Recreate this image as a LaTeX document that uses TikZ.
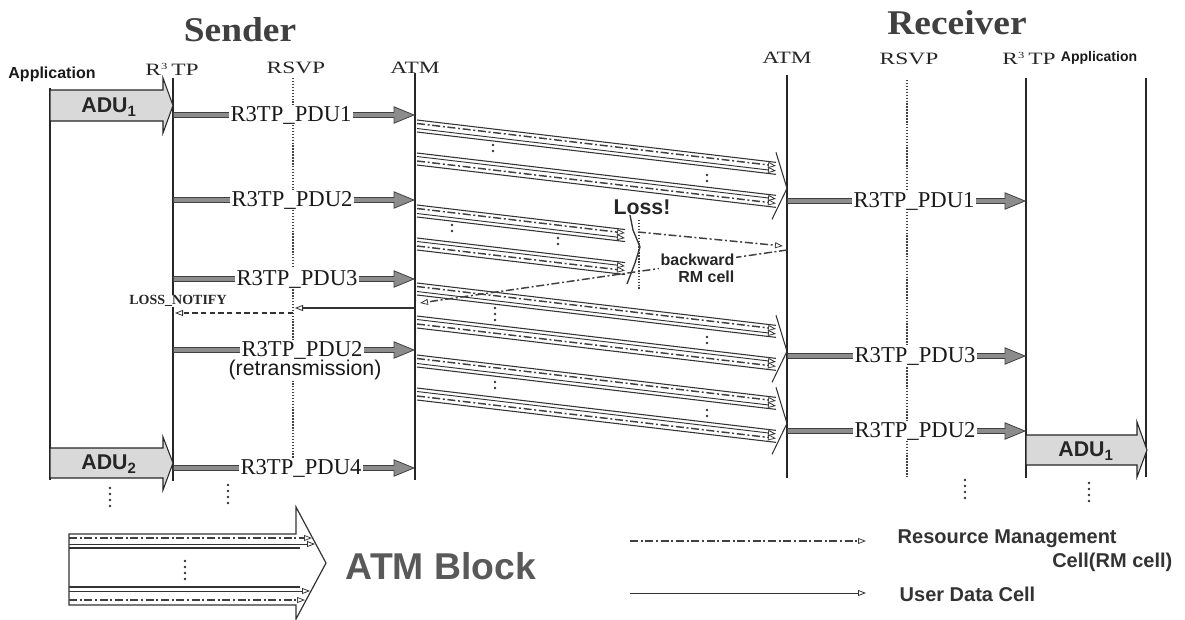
\documentclass[tikz,border=0pt]{standalone}
\usepackage{graphicx}
\usepackage{fontspec}
\setmainfont{Liberation Serif}
\setsansfont{Liberation Sans}
\usetikzlibrary{arrows.meta,calc}
\newcommand\hdrtxt[1]{\scalebox{1.35}[1]{#1}}
\newcommand\rthree{R\raisebox{0.75ex}{\fontsize{7}{8}\selectfont 3}\,TP}
\newcommand\atmln[4]{\draw[#4] (417,{#1+#3}) -- (#2,{#1+#3+\bdy});}
\newcommand\atmblk[3]{%
 \pgfmathsetmacro\bdy{0.118*(#2-417)}%
 \atmln{#1}{#2}{0}{outl}%
 \atmln{#1}{#2}{3.5}{rml,rmtip}%
 \atmln{#1}{#2}{8.5}{udl,udtip}%
 \atmln{#1}{#2}{12}{outl}%
 \atmln{#1}{#2}{33}{outl}%
 \atmln{#1}{#2}{36.5}{udl,udtip}%
 \atmln{#1}{#2}{41}{rml,rmtip}%
 \atmln{#1}{#2}{45}{outl}%
 \ifnum#3=1 \draw[outl] (#2,{#1+\bdy-10}) -- ({#2+11},{#1+\bdy+26}) -- ({#2-4},{#1+\bdy+57});\fi
}
\begin{document}
\begin{tikzpicture}[x=0.75pt,y=-0.75pt,
  life/.style={line width=1.1pt, black!85},
  rsvpl/.style={line width=1.2pt, black!75, dash pattern=on 1.1pt off 1.1pt},
  pdu/.style={line width=4.8pt, black!75, -{Triangle[length=16pt,width=13pt,fill=black!45,line width=0.6pt]},
    postaction={draw=black!45, line width=2.8pt, -, shorten >=15pt, shorten <=0.8pt}},
  pdulbl/.style={font=\fontsize{17}{20}\selectfont, fill=white, inner sep=1pt, text=black!90},
  hdr/.style={font=\fontsize{13}{15}\selectfont, text=black!85},
  hdrs/.style={font=\sffamily\bfseries\fontsize{12}{14}\selectfont, text=black!90},
  big/.style={font=\bfseries\fontsize{26}{30}\selectfont, text=black!75},
  adu/.style={fill=gray!30, draw=black!85, line width=0.8pt},
  adulbl/.style={font=\sffamily\bfseries\fontsize{16}{18}\selectfont, text=black!85},
  outl/.style={line width=0.8pt, black!80},
  rml/.style={line width=1.1pt, black!75, dash pattern=on 6pt off 2pt on 1.5pt off 2pt},
  udl/.style={line width=0.7pt, black!80},
  rmtip/.style={-{Triangle[open,length=6pt,width=4.5pt,line width=0.6pt]}},
  udtip/.style={-{Triangle[open,length=6pt,width=4.5pt,line width=0.6pt]}},
  ellip/.style={line width=2.2pt, black!80, dash pattern=on 0pt off 4.5pt, line cap=round},
  legtxt/.style={font=\sffamily\bfseries\fontsize{15}{17}\selectfont, text=black!80},
  dashl/.style={line width=1.1pt, black!80, dash pattern=on 4pt off 2.5pt}
]
\useasboundingbox (0,0) rectangle (1185,619);

% ---------- headers ----------
\node[big] (sender) at (240,30) {\scalebox{1.08}[1]{Sender}};
\node[big] (receiver) at (957,23) {\scalebox{1.08}[1]{Receiver}};
\node[hdrs] (sAppL) at (52,74) {Application};
\node[hdr] (sR3L) at (172,69) {\hdrtxt{\rthree}};
\node[hdr] (sRsL) at (296,68) {\hdrtxt{RSVP}};
\node[hdr] (sAtL) at (415,68) {\hdrtxt{ATM}};
\node[hdr] (rAtL) at (787,58) {\hdrtxt{ATM}};
\node[hdr] (rRsL) at (909,59) {\hdrtxt{RSVP}};
\node[hdr] (rR3L) at (1029,58) {\hdrtxt{\rthree}};
\node[hdrs, font=\sffamily\bfseries\fontsize{10.5}{12}\selectfont] (rAppL) at (1099,58) {Application};

% ---------- lifelines ----------
\draw[life] (50,88) -- (50,480);
\draw[life] (173,78) -- (173,481);
\draw[rsvpl] (293,78) -- (293,470);
\draw[life] (415,73) -- (415,480);
\draw[life] (787,75) -- (787,478);
\draw[rsvpl] (907,80) -- (907,478);
\draw[life] (1026,78) -- (1026,478);
\draw[life] (1146,78) -- (1146,477);

% ---------- ADU arrows ----------
\draw[adu] (50,90) -- (163,90) -- (163,78) -- (173,105.5) -- (163,133) -- (163,121) -- (50,121) -- cycle;
\node[adulbl] (adu1s) at (109,107) {ADU\textsubscript{1}};
\draw[adu] (50,448) -- (163,448) -- (163,437) -- (173,463) -- (163,490) -- (163,478) -- (50,478) -- cycle;
\node[adulbl] (adu2s) at (109,464) {ADU\textsubscript{2}};
\draw[adu] (1026,435) -- (1137,435) -- (1137,422) -- (1147,450) -- (1137,477) -- (1137,465) -- (1026,465) -- cycle;
\node[adulbl] (adu1r) at (1086,451) {ADU\textsubscript{1}};

% ---------- ATM blocks ----------
\atmblk{120}{776}{1}
\atmblk{205}{625}{0}
\atmblk{283}{776}{1}
\atmblk{355}{776}{1}

% dots inside blocks
\draw[ellip] (493,145) -- (493,157);
\draw[ellip] (707,175) -- (707,187);
\draw[ellip] (452,225) -- (452,237);
\draw[ellip] (558,238) -- (558,250);
\draw[ellip] (495,308) -- (495,320);
\draw[ellip] (707,337) -- (707,349);
\draw[ellip] (495,382) -- (495,394);
\draw[ellip] (707,410) -- (707,422);

% ---------- loss ----------
\draw[outl, line width=1pt] (630,215) -- (633,230) -- (640,247) -- (635,263) -- (627,284);
\node[font=\sffamily\bfseries\fontsize{16}{18}\selectfont, text=black!85] (loss) at (642,207) {Loss!};
\draw[rsvpl] (639,220) -- (639,290);

\coordinate (rm0) at (638,232);
\coordinate (rm1) at (783,246);
\draw[rml, rmtip] (rm0) -- (rm1);
\coordinate (rm2) at (787,250);
\coordinate (rm3) at (420,303);
\draw[rml, rmtip] (rm2) -- (rm3);
\node[font=\sffamily\bfseries\fontsize{12}{13}\selectfont, align=right, anchor=east, fill=white, inner sep=1pt, text=black!85] (bwd) at (736,268) {backward\\RM cell};

% ---------- LOSS_NOTIFY ----------
\coordinate (ln0) at (415,308);
\coordinate (ln1) at (295,308);
\draw[udl, line width=0.9pt, udtip] (ln0) -- (ln1);
\coordinate (ln2) at (293,313);
\coordinate (ln3) at (175,313);
\draw[dashl, udtip] (ln2) -- (ln3);
\node[font=\bfseries\fontsize{10.5}{12}\selectfont, fill=white, inner sep=0.5pt, text=black!85] (lnl) at (178,301) {LOSS\_NOTIFY};

% ---------- sender PDU arrows ----------
\coordinate (s1a) at (173,115); \coordinate (s1b) at (415,115);
\draw[pdu] (s1a) -- (s1b);
\node[pdulbl] (sp1) at (291,115) {R3TP\_PDU1};
\coordinate (s2a) at (173,200); \coordinate (s2b) at (415,200);
\draw[pdu] (s2a) -- (s2b);
\node[pdulbl] (sp2) at (292,200) {R3TP\_PDU2};
\coordinate (s3a) at (173,279); \coordinate (s3b) at (415,279);
\draw[pdu] (s3a) -- (s3b);
\node[pdulbl] (sp3) at (297,279) {R3TP\_PDU3};
\coordinate (s4a) at (173,350); \coordinate (s4b) at (415,350);
\draw[pdu] (s4a) -- (s4b);
\node[pdulbl] (sp4) at (302,350) {R3TP\_PDU2};
\node[font=\sffamily\fontsize{16}{18}\selectfont, fill=white, inner sep=0.5pt, text=black!90] (retr) at (305,370) {(retransmission)};
\coordinate (s5a) at (173,468); \coordinate (s5b) at (415,468);
\draw[pdu] (s5a) -- (s5b);
\node[pdulbl] (sp5) at (301,468) {R3TP\_PDU4};

% ---------- receiver PDU arrows ----------
\coordinate (r1a) at (787,201); \coordinate (r1b) at (1026,201);
\draw[pdu] (r1a) -- (r1b);
\node[pdulbl] (rp1) at (914,201) {R3TP\_PDU1};
\coordinate (r2a) at (787,356); \coordinate (r2b) at (1026,356);
\draw[pdu] (r2a) -- (r2b);
\node[pdulbl] (rp2) at (915,356) {R3TP\_PDU3};
\coordinate (r3a) at (787,431); \coordinate (r3b) at (1026,431);
\draw[pdu] (r3a) -- (r3b);
\node[pdulbl] (rp3) at (915,431) {R3TP\_PDU2};

% ---------- bottom ellipses ----------
\draw[ellip] (110,488) -- (110,507);
\draw[ellip] (228,485) -- (228,504);
\draw[ellip] (965,480) -- (965,499);
\draw[ellip] (1089,483) -- (1089,502);

% ---------- legend: ATM block ----------
\draw[outl, line width=0.9pt] (69,534) -- (296,534) -- (296,507) -- (326,563) -- (296,619) -- (296,605) -- (69,605) -- cycle;
\draw[rml, rmtip] (69,538) -- (312,538);
\draw[udl, udtip] (69,544) -- (315,544);
\draw[outl] (69,548) -- (300,548);
\draw[outl] (69,587) -- (300,587);
\draw[udl, udtip] (69,591) -- (310,591);
\draw[rml, rmtip] (69,600) -- (305,600);
\draw[ellip] (185,561) -- (185,583);
\node[font=\sffamily\bfseries\fontsize{28}{32}\selectfont, text=black!65] (atmblock) at (441,566) {ATM Block};

% ---------- legend: cells ----------
\coordinate (lg1a) at (630,541); \coordinate (lg1b) at (866,541);
\draw[rml, rmtip] (lg1a) -- (lg1b);
\node[legtxt, anchor=west] (lgt1) at (893,539) {Resource Management};
\node[legtxt, anchor=east] (lgt2) at (1177,562) {Cell(RM cell)};
\coordinate (lg2a) at (630,593); \coordinate (lg2b) at (866,593);
\draw[udl, udtip] (lg2a) -- (lg2b);
\node[legtxt, anchor=west] (lgt3) at (895,594) {User Data Cell};
\end{tikzpicture}
\end{document}
